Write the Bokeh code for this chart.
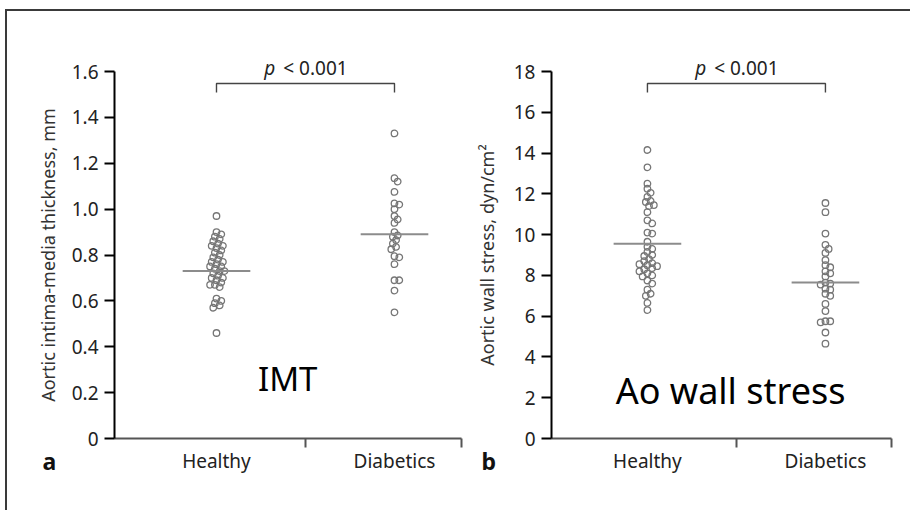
import numpy as np
from bokeh.plotting import figure
from bokeh.models import FixedTicker, Range1d
from bokeh.layouts import row
from bokeh.embed import file_html
from bokeh.resources import INLINE
from bokeh.core.properties import value

# ---------------- data ----------------
categories = ["Healthy", "Diabetics"]

imt_healthy = [0.97, 0.90, 0.89, 0.88, 0.87, 0.86, 0.85, 0.84, 0.84, 0.83,
               0.82, 0.81, 0.80, 0.79, 0.78, 0.77, 0.77, 0.76, 0.75, 0.75,
               0.74, 0.73, 0.73, 0.72, 0.71, 0.70, 0.70, 0.69, 0.68, 0.67,
               0.67, 0.66, 0.61, 0.60, 0.59, 0.58, 0.57, 0.46]
imt_diabetic = [1.33, 1.135, 1.12, 1.075, 1.025, 1.02, 1.00, 0.97, 0.955, 0.94,
                0.90, 0.885, 0.88, 0.865, 0.85, 0.835, 0.825, 0.795, 0.79, 0.76,
                0.69, 0.69, 0.645, 0.55]
imt_means = [0.73, 0.89]
imt_ticks = [0, 0.2, 0.4, 0.6, 0.8, 1.0, 1.2, 1.4, 1.6]

aws_healthy = [14.15, 13.3, 12.5, 12.25, 12.05, 11.85, 11.65, 11.6, 11.45, 11.4,
               11.1, 10.7, 10.55, 10.1, 10.05, 9.65, 9.4, 9.3, 9.15, 9.0,
               8.95, 8.8, 8.7, 8.6, 8.55, 8.5, 8.45, 8.35, 8.3, 8.2,
               8.1, 8.0, 7.95, 7.75, 7.6, 7.3, 7.1, 7.0, 6.65, 6.3]
aws_diabetic = [11.55, 11.1, 10.05, 9.5, 9.3, 9.1, 8.75, 8.5, 8.4, 8.2,
                8.1, 7.95, 7.65, 7.6, 7.55, 7.35, 7.3, 7.1, 7.0, 6.6,
                6.25, 5.75, 5.75, 5.7, 5.2, 4.65]
aws_means = [9.55, 7.65]
aws_ticks = [0, 2, 4, 6, 8, 10, 12, 14, 16, 18]

p_label = "p"
p_value = "< 0.001"

FONT = "Noto Sans"
PX_CAT = 178.0          # pixels between the two categories
HEIGHT = 499
PAGE_TOP = 11           # page y of the canvas top
ZERO_Y = 438            # page y of the value 0
AXIS_PX = 367.0         # pixels from 0 to the top tick


def swarm(vals, px_per_unit, diam=4.6, step=1.6):
    """deterministic beeswarm layout: returns offsets in category units"""
    order = sorted(range(len(vals)), key=lambda i: -vals[i])
    placed = []
    offs = [0.0] * len(vals)
    cands = [0.0]
    for j in range(1, 40):
        cands += [j * step, -j * step]
    for i in order:
        y = vals[i] * px_per_unit
        for c in cands:
            if all((c - px) ** 2 + (y - py) ** 2 >= diam ** 2 for px, py in placed):
                break
        placed.append((c, y))
        offs[i] = c / PX_CAT
    return offs


def panel(groups, means, ticks, ylabel, big_text, big_x, big_y, big_size,
          letter, width, canvas_left, axis_px, x0, x_end, label_standoff):
    ymax = ticks[-1]
    ppu = AXIS_PX / ymax
    xs = x0 - (axis_px - canvas_left) / PX_CAT
    xe = xs + width / PX_CAT
    ye = (ZERO_Y - PAGE_TOP) / ppu
    ys = (ZERO_Y - PAGE_TOP - HEIGHT) / ppu
    p = figure(width=width, height=HEIGHT, output_backend="svg", toolbar_location=None,
               x_range=Range1d(xs, xe), y_range=Range1d(ys, ye),
               min_border=0, background_fill_color="white", border_fill_color="white")
    p.title.visible = False
    p.outline_line_color = None
    p.grid.visible = False

    xpos = [1, 2]
    for xc, vals in zip(xpos, groups):
        offs = swarm(vals, ppu)
        p.scatter([xc + o for o in offs], vals, size=6.5, marker="circle",
                  fill_alpha=0, line_color="#767676", line_width=1.3)
    # mean lines
    p.segment(x0=[x - 0.19 for x in xpos], x1=[x + 0.19 for x in xpos],
              y0=means, y1=means, line_color="#8c8c8c", line_width=2)

    # significance bracket
    bt, bb = ymax * 0.9675, ymax * 0.9425
    p.line([xpos[0], xpos[0], xpos[1], xpos[1]], [bb, bt, bt, bb],
           line_color="#444444", line_width=1.4)
    ty = ymax * 1.01
    p.text([1.33], [ty], text=[p_label], text_font=value(FONT), text_font_size="19px",
           text_font_style="italic", text_align="right", text_baseline="middle",
           text_color="#222222")
    p.text([1.375], [ty], text=[p_value], text_font=value(FONT), text_font_size="19px",
           text_align="left", text_baseline="middle", text_color="#222222")

    # big annotation text
    p.text([big_x], [ymax * big_y], text=[big_text], text_font=value(FONT),
           text_font_size=big_size, text_align="center", text_baseline="middle",
           text_color="black")

    # panel letter
    p.text([x0 - letter[1] / PX_CAT], [-22.0 / ppu], text=[letter[0]],
           text_font=value(FONT), text_font_size="23px", text_font_style="bold",
           text_align="left", text_baseline="middle", text_color="#111111")

    # axes, pinned at the data origin
    ya = p.yaxis[0]
    ya.fixed_location = x0
    ya.ticker = FixedTicker(ticks=ticks)
    ya.bounds = (0, ymax)
    ya.major_label_overrides = {t: ("0" if t == 0 else (f"{t:.1f}" if ymax < 5 else f"{t:g}"))
                                for t in ticks}
    ya.axis_line_color = "black"
    ya.axis_line_width = 2
    ya.major_tick_line_color = "black"
    ya.major_tick_line_width = 2
    ya.major_tick_out = 10
    ya.major_tick_in = 0
    ya.minor_tick_line_color = None
    ya.major_label_standoff = 6
    ya.major_label_text_font = FONT
    ya.major_label_text_font_size = "19px"
    ya.major_label_text_color = "#222222"
    ya.axis_label = ylabel
    ya.axis_label_text_font = FONT
    ya.axis_label_text_font_size = "18px"
    ya.axis_label_text_font_style = "normal"
    ya.axis_label_text_color = "#333333"
    ya.axis_label_standoff = label_standoff

    xa = p.xaxis[0]
    xa.fixed_location = 0
    xa.ticker = FixedTicker(ticks=xpos, minor_ticks=[1.5, x_end])
    xa.bounds = (x0, x_end)
    xa.major_label_overrides = {1: categories[0], 2: categories[1]}
    xa.axis_line_color = "#555555"
    xa.axis_line_width = 2
    xa.major_tick_out = 0
    xa.major_tick_in = 0
    xa.major_tick_line_color = None
    xa.minor_tick_line_color = "#555555"
    xa.minor_tick_line_width = 2
    xa.minor_tick_out = 9
    xa.minor_tick_in = 0
    xa.major_label_standoff = 0
    xa.major_label_text_font = FONT
    xa.major_label_text_font_size = "19px"
    xa.major_label_text_color = "#222222"
    return p


p1 = panel([imt_healthy, imt_diabetic], imt_means, imt_ticks,
           "Aortic intima-media thickness, mm", "IMT", 1.40, 0.1625, "33px",
           ("a", 72), 463, 7, 114, 0.427, 2.376, 9)
p2 = panel([aws_healthy, aws_diabetic], aws_means, aws_ticks,
           "Aortic wall stress, dyn/cm\u00b2", "Ao wall stress", 1.467, 0.131, "36px",
           ("b", 70), 440, 470, 551, 0.461, 2.371, 12)

layout = row(p1, p2, styles={"border-top": "2px solid #3a3a3a",
                             "border-left": "2px solid #3a3a3a",
                             "margin-top": "9px", "margin-left": "5px"})

open("out.html", "w").write(file_html(layout, INLINE))
